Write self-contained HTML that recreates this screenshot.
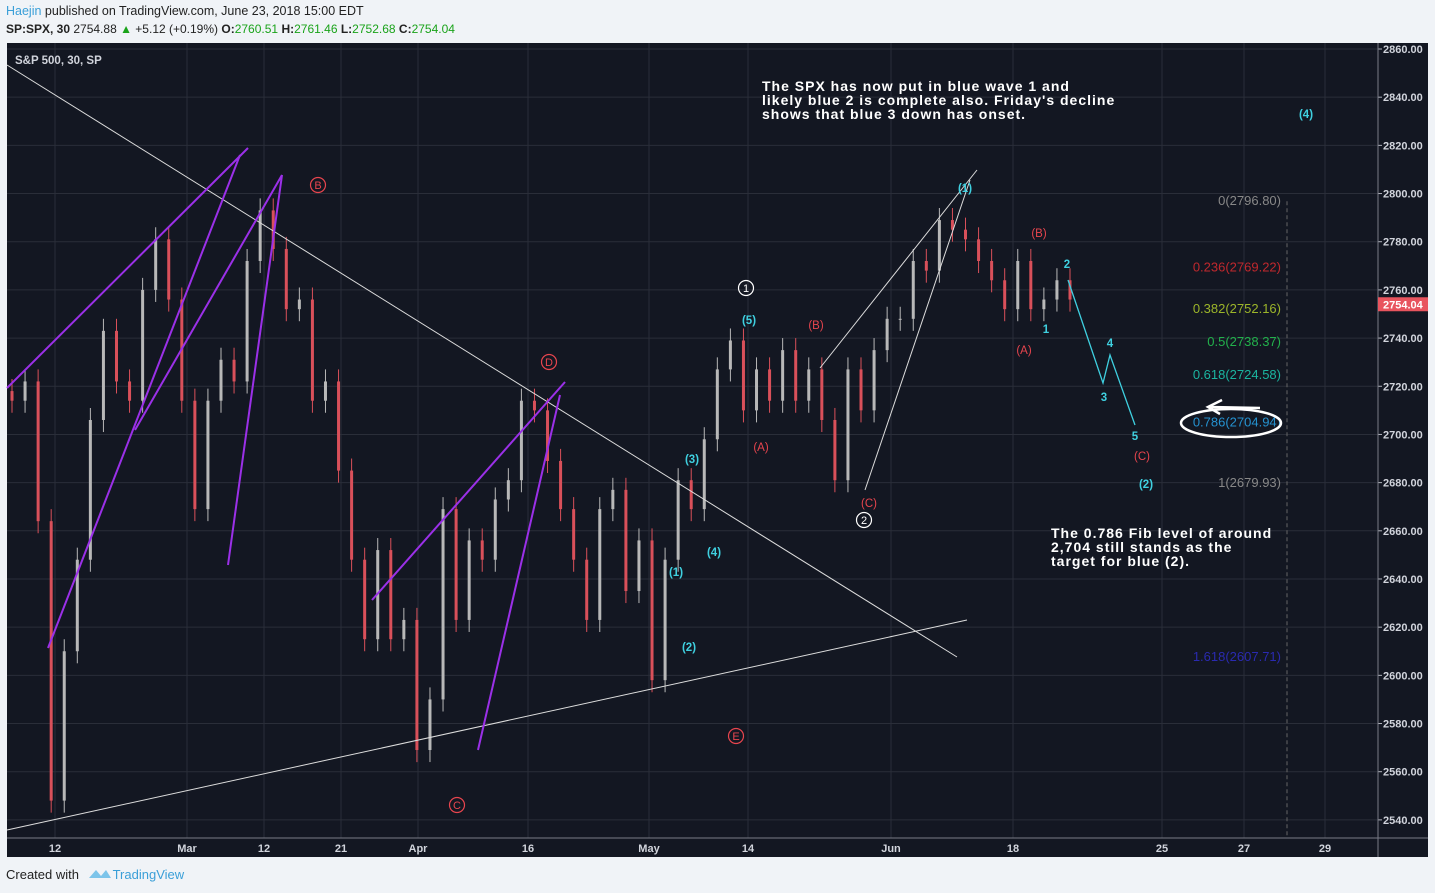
<!DOCTYPE html>
<html><head><meta charset="utf-8">
<style>
body{margin:0;width:1435px;height:893px;background:#f0f3f7;font-family:"Liberation Sans",sans-serif;overflow:hidden;position:relative}
.hdr{position:absolute;left:6px;font-size:12.5px;color:#222}
</style></head><body>
<div class="hdr" style="top:4px"><span style="color:#3a9fd8">Haejin</span> published on TradingView.com, June 23, 2018 15:00 EDT</div>
<div class="hdr" style="top:22px;font-size:12px"><b>SP:SPX, 30</b> 2754.88 <span style="color:#1aa31a">▲</span> +5.12 (+0.19%) <b>O:</b><span style="color:#1aa31a">2760.51</span> <b>H:</b><span style="color:#1aa31a">2761.46</span> <b>L:</b><span style="color:#1aa31a">2752.68</span> <b>C:</b><span style="color:#1aa31a">2754.04</span></div>
<svg id="c" width="1435" height="893" style="position:absolute;left:0;top:0"></svg>
<div style="position:absolute;left:6px;top:867px;font-size:13px;color:#222">Created with <span style="color:#3a9fd8;margin-left:30px">TradingView</span></div>
<svg style="position:absolute;left:87px;top:866px" width="26" height="16"><path d="M2 12 L9 4 L14 10 L19 4 L24 12 Z" fill="#7cc4ea"/></svg>
<script>
const closes=[2714,2722,2664,2548,2610,2648,2706,2743,2722,2714,2760,2781,2756,2714,2669,2714,2731,2722,2772,2793,2777,2752,2756,2714,2722,2685,2648,2615,2652,2615,2623,2569,2590,2669,2623,2656,2648,2673,2681,2714,2710,2689,2669,2648,2623,2669,2677,2635,2656,2598,2648,2681,2669,2698,2727,2739,2710,2727,2714,2735,2714,2727,2706,2681,2727,2710,2735,2748,2748,2772,2768,2789,2785,2781,2772,2764,2752,2772,2752,2756,2764,2756];
const priceTicks=[2860,2840,2820,2800,2780,2760,2740,2720,2700,2680,2660,2640,2620,2600,2580,2560,2540];
const dateLabels=["12","Mar","12","21","Apr","16","May","14","Jun","18","25","27","29"];
const dateX=[55,187,264,341,418,528,649,748,891,1013,1162,1244,1325];
const fibLevels=[0,0.236,0.382,0.5,0.618,0.786,1,1.618];
const fibPrices=[2796.80,2769.22,2752.16,2738.37,2724.58,2704.94,2679.93,2607.71];
const fibColors=["#888","#c0282d","#9cb52a","#22b14c","#1bb5a0","#2592d0","#888","#2a2ab0"];
const NS="http://www.w3.org/2000/svg";
const svg=document.getElementById('c');
const X0=7,X1=1378,Y0=43,Y1=838;
const y=p=>49+(2860-p)*2.409;
const xi=i=>12+i*(1058/(closes.length-1));
function el(t,a,p){const e=document.createElementNS(NS,t);for(const k in a)e.setAttribute(k,a[k]);(p||svg).appendChild(e);return e;}
const bg=el('rect',{x:X0,y:Y0,width:1421,height:814,fill:'#131722'});


priceTicks.forEach(p=>{
 const g=el('line',{x1:X0,x2:X1,y1:y(p),y2:y(p),stroke:'#2a2e39'});
 
 
 el('line',{x1:X1,x2:X1+4,y1:y(p),y2:y(p),stroke:'#b2b5be'});
 const t=el('text',{x:1383,y:y(p)+4,fill:'#d1d4dc','font-size':11,'font-weight':'bold'});t.textContent=p.toFixed(2);
 
 
});
dateX.forEach((x,i)=>{
 const g=el('line',{x1:x,x2:x,y1:Y0,y2:Y1,stroke:'#2a2e39'});
 
 
 const t=el('text',{x:x,y:852,fill:'#d1d4dc','font-size':11,'font-weight':'bold','text-anchor':'middle'});t.textContent=dateLabels[i];
 
 
});
el('line',{x1:X1,x2:X1,y1:Y0,y2:857,stroke:'#787b86'});
el('line',{x1:X0,x2:1428,y1:Y1,y2:Y1,stroke:'#787b86'});
el('rect',{x:1428,y:Y0,width:7,height:814,fill:'#f0f3f7'});
closes.forEach((c,i)=>{
 const o=i?closes[i-1]:c+4;const up=c>=o;const col=up?'#b8b8b8':'#d9505a';
 const x=xi(i);
 const w=el('line',{x1:x,x2:x,y1:y(Math.max(o,c)+5),y2:y(Math.min(o,c)-5),stroke:col,'stroke-width':1});
 
 
 const b=el('rect',{x:x-1.5,y:y(Math.max(o,c)),width:3,height:Math.max(1,Math.abs(o-c)*2.409),fill:col});
 
 
});
[[7,65,957,657,'#ddd'],[7,830,967,620,'#ddd'],[820,368,977,170,'#ddd'],[865,490,970,180,'#ddd'],
 [7,388,248,148,'#9b30e8'],[48,648,240,155,'#9b30e8'],[135,430,282,175,'#9b30e8'],[228,565,282,175,'#9b30e8'],
 [372,600,565,382,'#9b30e8'],[478,750,560,395,'#9b30e8']].forEach(l=>{
 const e=el('line',{x1:l[0],y1:l[1],x2:l[2],y2:l[3],stroke:l[4],'stroke-width':l[4]=='#ddd'?1:2});
 
 
});
const proj=el('polyline',{points:'1068,280 1103,383 1110,355 1135,425',fill:'none',stroke:'#3fd0e0','stroke-width':1.3});


el('line',{x1:1287,x2:1287,y1:y(2796.8),y2:837,stroke:'#666','stroke-dasharray':'4,3'});
fibLevels.forEach((f,i)=>{
 const t=el('text',{x:1281,y:y(fibPrices[i])+4,fill:fibColors[i],'font-size':13,'text-anchor':'end'});
 t.textContent=f+'('+fibPrices[i].toFixed(2)+')';
 
 
});
el('ellipse',{cx:1231,cy:423,rx:50,ry:14,fill:'none',stroke:'#fff','stroke-width':2.5});
el('path',{d:'M1260 408 L1210 407 M1222 400 L1208 407 L1220 414',fill:'none',stroke:'#fff','stroke-width':2.5});
el('rect',{x:1378,y:y(2754.04)-7,width:50,height:14,fill:'#e8545e'});
const lp=el('text',{x:1383,y:y(2754.04)+4,fill:'#fff','font-size':11,'font-weight':'bold'});lp.textContent='2754.04';


function lab(x,yy,s,c,circle){
 if(circle)el('circle',{cx:x,cy:yy-4,r:7.5,fill:'none',stroke:c,'stroke-width':1.2});
 const t=el('text',{x:x,y:yy,fill:c,'font-size':circle?11:11.5,'text-anchor':'middle','font-weight':c=='#3fd0e0'?'bold':'normal'});t.textContent=s;
 
 
}
[[318,189,'B'],[549,366,'D'],[736,740,'E'],[457,809,'C']].forEach(a=>lab(a[0],a[1],a[2],'#e8454e',true));
[[746,292,'1'],[864,524,'2']].forEach(a=>lab(a[0],a[1],a[2],'#fff',true));
[[749,324,'(5)'],[692,463,'(3)'],[714,556,'(4)'],[676,576,'(1)'],[689,651,'(2)'],[965,192,'(1)'],[1046,333,'1'],[1067,268,'2'],[1110,347,'4'],[1104,401,'3'],[1135,440,'5'],[1146,488,'(2)'],[1306,118,'(4)']].forEach(a=>lab(a[0],a[1],a[2],'#3fd0e0'));
[[816,329,'(B)'],[761,451,'(A)'],[869,507,'(C)'],[1039,237,'(B)'],[1024,354,'(A)'],[1142,460,'(C)']].forEach(a=>lab(a[0],a[1],a[2],'#e8454e'));
const tt=el('text',{x:15,y:64,fill:'#d1d4dc','font-size':11.5,'font-weight':'bold'});tt.textContent='S&P 500, 30, SP';


function block(x,y0,lines){lines.forEach((s,i)=>{const t=el('text',{x:x,y:y0+i*14,fill:'#fff','font-size':14,'font-weight':'bold','font-family':'Liberation Sans','letter-spacing':1});t.textContent=s;
 
 });}
block(762,91,['The SPX has now put in blue wave 1 and','likely blue 2 is complete also. Friday\'s decline','shows that blue 3 down has onset.']);
block(1051,538,['The 0.786 Fib level of around','2,704 still stands as the','target for blue (2).']);
</script>
</body></html>
